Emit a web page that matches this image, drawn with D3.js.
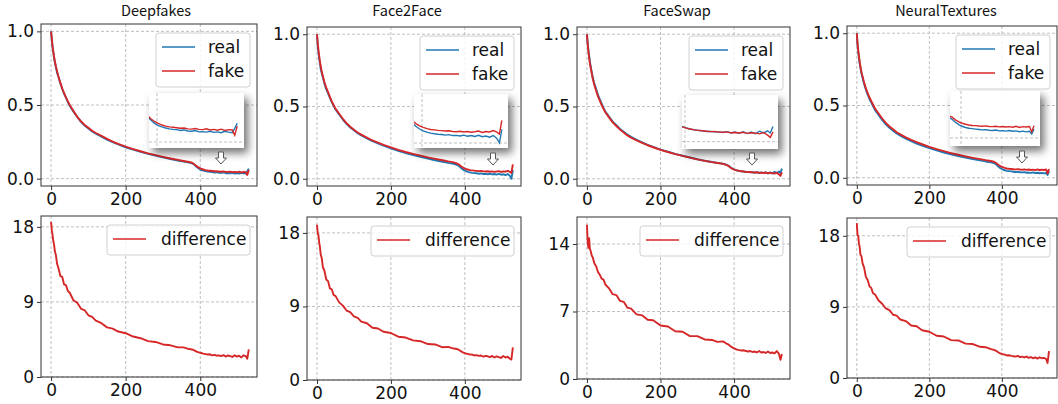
<!DOCTYPE html>
<html>
<head>
<meta charset="utf-8">
<script src="https://cdn.jsdelivr.net/npm/d3@7"></script>
<style>
  body { margin: 0; background: #fff; }
  svg { font-family: "DejaVu Sans", sans-serif; }
</style>
</head>
<body>
<div id="chart"></div>
<script>
// canvas size
const WIDTH = 1058;
const HEIGHT = 404;

// ---- data ----
const STEPS = [0,2,4,6,8,10,13,16,20,25,30,35,40,45,50,60,70,80,90,100,110,120,135,150,165,180,200,220,240,260,280,300,320,340,355,370,378,
  384,390,396,402,408,414,420,426,432,438,444,450,456,462,468,474,480,486,492,498,504,510,516,522,526,530];

const TITLES = ["Deepfakes", "Face2Face", "FaceSwap", "NeuralTextures"];

const REAL_DF = [1.00,0.94,0.89,0.86,0.82,0.79,0.76,0.72,0.69,0.645,0.61,0.575,0.55,0.52,0.495,0.455,0.42,0.385,0.36,0.34,0.32,0.305,0.285,0.265,0.248,0.232,0.213,0.197,0.182,0.168,0.156,0.144,0.133,0.123,0.116,0.109,0.104,
  0.094,0.080,0.068,0.060,0.055,0.051,0.048,0.046,0.045,0.042,0.044,0.040,0.039,0.042,0.037,0.038,0.036,0.039,0.035,0.037,0.034,0.039,0.036,0.034,0.05,0.068];
const FAKE_DF = [1.00,0.95,0.90,0.86,0.83,0.80,0.76,0.73,0.69,0.65,0.61,0.58,0.55,0.525,0.50,0.46,0.42,0.39,0.365,0.345,0.325,0.31,0.29,0.27,0.252,0.236,0.217,0.201,0.186,0.172,0.16,0.148,0.137,0.127,0.12,0.113,0.108,
  0.098,0.085,0.075,0.068,0.062,0.058,0.055,0.054,0.052,0.050,0.051,0.048,0.047,0.049,0.046,0.045,0.048,0.044,0.046,0.043,0.047,0.042,0.045,0.044,0.025,0.058];
const DIFF_DF = [18.6,17.6,17.0,16.3,15.9,15.1,14.6,13.6,13.0,12.1,12.0,11.1,11.0,10.3,10.1,9.2,8.9,8.2,8.0,7.4,7.2,6.75,6.45,5.95,5.8,5.45,5.25,4.85,4.65,4.3,4.2,3.9,3.8,3.55,3.55,3.35,3.3,
  3.2,3.05,2.95,2.88,2.8,2.75,2.7,2.72,2.6,2.65,2.55,2.6,2.5,2.62,2.45,2.58,2.5,2.4,2.6,2.45,2.55,2.35,2.6,2.5,2.2,3.3];

const REAL_F2F = [1.00,0.92,0.87,0.83,0.80,0.76,0.73,0.70,0.66,0.62,0.59,0.56,0.53,0.505,0.48,0.445,0.41,0.38,0.355,0.335,0.315,0.3,0.28,0.26,0.245,0.23,0.211,0.194,0.178,0.164,0.151,0.139,0.128,0.118,0.11,0.103,0.097,
  0.088,0.074,0.062,0.054,0.048,0.044,0.041,0.039,0.038,0.035,0.037,0.033,0.034,0.031,0.035,0.03,0.033,0.029,0.034,0.028,0.031,0.026,0.033,0.02,0.0,0.06];
const FAKE_F2F = [1.00,0.94,0.89,0.85,0.81,0.78,0.74,0.71,0.67,0.63,0.60,0.565,0.535,0.51,0.485,0.45,0.415,0.385,0.36,0.34,0.32,0.305,0.285,0.265,0.25,0.235,0.217,0.2,0.185,0.172,0.16,0.148,0.138,0.128,0.12,0.113,0.106,
  0.098,0.086,0.076,0.069,0.064,0.06,0.058,0.056,0.055,0.053,0.054,0.051,0.05,0.052,0.049,0.051,0.048,0.05,0.053,0.047,0.051,0.049,0.055,0.048,0.04,0.1];
const DIFF_F2F = [19.0,18.0,17.7,16.8,16.3,15.4,14.9,13.8,13.4,12.3,12.1,11.2,11.1,10.4,10.3,9.5,9.1,8.5,8.3,7.8,7.6,7.15,6.95,6.4,6.3,5.9,5.75,5.3,5.2,4.85,4.75,4.4,4.35,4.0,4.05,3.85,3.8,
  3.7,3.5,3.35,3.25,3.2,3.1,3.12,3.0,3.05,2.95,3.0,2.85,2.95,2.9,2.8,2.95,2.75,2.9,2.8,2.7,2.95,2.75,2.85,2.6,2.5,4.0];

const REAL_FS = [1.00,0.94,0.89,0.85,0.81,0.78,0.74,0.70,0.66,0.62,0.58,0.55,0.52,0.49,0.465,0.43,0.395,0.37,0.345,0.325,0.305,0.29,0.27,0.252,0.235,0.22,0.202,0.187,0.172,0.159,0.147,0.135,0.125,0.116,0.11,0.104,0.098,
  0.091,0.079,0.069,0.063,0.057,0.055,0.051,0.05,0.047,0.047,0.045,0.045,0.042,0.046,0.04,0.044,0.039,0.045,0.037,0.044,0.036,0.048,0.04,0.05,0.04,0.07];
const FAKE_FS = [1.00,0.93,0.88,0.84,0.80,0.77,0.73,0.69,0.65,0.61,0.57,0.54,0.51,0.485,0.46,0.425,0.39,0.365,0.34,0.32,0.30,0.285,0.265,0.248,0.232,0.218,0.2,0.185,0.171,0.158,0.146,0.134,0.124,0.115,0.109,0.103,0.097,
  0.09,0.078,0.068,0.062,0.058,0.054,0.052,0.05,0.048,0.046,0.047,0.044,0.043,0.045,0.041,0.042,0.04,0.043,0.038,0.041,0.039,0.036,0.042,0.03,0.02,0.045];
const DIFF_FS = [16.0,14.2,13.6,14.6,13.5,13.3,12.8,12.6,12.0,11.7,11.1,10.8,10.4,10.3,9.8,9.4,8.8,8.7,8.1,8.0,7.4,7.3,6.7,6.6,6.15,6.1,5.55,5.45,4.95,4.9,4.45,4.45,4.1,4.05,3.85,3.9,3.7,
  3.6,3.4,3.25,3.15,3.05,3.0,2.95,2.98,2.9,2.85,2.9,2.8,2.85,2.75,2.9,2.75,2.8,2.7,2.85,2.7,2.75,2.65,2.9,2.6,2.0,2.6];

const REAL_NT = [1.00,0.92,0.87,0.83,0.79,0.76,0.72,0.69,0.65,0.61,0.575,0.545,0.52,0.495,0.47,0.435,0.4,0.37,0.346,0.326,0.306,0.291,0.271,0.253,0.237,0.223,0.205,0.189,0.175,0.162,0.15,0.139,0.129,0.12,0.113,0.107,0.102,
  0.093,0.078,0.066,0.058,0.052,0.048,0.046,0.044,0.042,0.04,0.041,0.038,0.037,0.039,0.035,0.036,0.034,0.037,0.033,0.035,0.031,0.034,0.03,0.033,0.02,0.045];
const FAKE_NT = [1.00,0.93,0.88,0.84,0.80,0.77,0.73,0.70,0.66,0.62,0.585,0.555,0.53,0.505,0.48,0.445,0.41,0.38,0.355,0.335,0.315,0.3,0.28,0.262,0.246,0.232,0.214,0.198,0.184,0.171,0.159,0.148,0.138,0.129,0.122,0.116,0.111,
  0.103,0.09,0.08,0.073,0.068,0.064,0.062,0.061,0.059,0.058,0.06,0.057,0.056,0.058,0.055,0.057,0.054,0.056,0.053,0.058,0.052,0.056,0.054,0.057,0.03,0.06];
const DIFF_NT = [19.6,18.1,18.0,17.0,16.6,15.6,15.4,14.5,14.0,12.8,12.4,11.6,11.4,10.7,10.6,9.8,9.4,8.8,8.6,8.0,7.9,7.4,7.2,6.65,6.55,6.05,5.85,5.35,5.25,4.8,4.75,4.35,4.3,3.95,3.9,3.65,3.55,
  3.45,3.25,3.1,3.02,2.95,2.85,2.88,2.8,2.75,2.7,2.8,2.65,2.7,2.6,2.72,2.55,2.65,2.5,2.6,2.45,2.62,2.5,2.55,2.4,1.9,3.4];

const REAL = [REAL_DF, REAL_F2F, REAL_FS, REAL_NT];
const FAKE = [FAKE_DF, FAKE_F2F, FAKE_FS, FAKE_NT];
const DIFF = [DIFF_DF, DIFF_F2F, DIFF_FS, DIFF_NT];

const X_TICKS = [0, 200, 400];
const TOP_TICKS = [0, 0.5, 1.0];
const DIFF_TICKS = [[0, 9, 18], [0, 9, 18], [0, 7, 14], [0, 9, 18]];
const DIFF_MAX = [19.3, 19.95, 16.8, 20.25];

// ---- layout ----
const X_DOMAIN = [-27, 552];
const COLS = [
  {left: 41,  right: 257,  titleX: 156, top: [24, 186], bot: [216, 377],
   inset: {x: 149, y: 93, w: 95, h: 55, xd: [387, 541], yd: [-0.022, 0.179]}, arrow: [221, 158]},
  {left: 307, right: 521,  titleX: 407, top: [27, 186], bot: [217, 380],
   inset: {x: 414, y: 94, w: 94, h: 54, xd: [387, 540], yd: [-0.022, 0.217]}, arrow: [493, 159]},
  {left: 577, right: 790,  titleX: 677, top: [27, 186], bot: [217, 379],
   inset: {x: 682, y: 95, w: 96, h: 54, xd: [395.6, 537.4], yd: [-0.034, 0.215]}, arrow: [752, 159]},
  {left: 847, right: 1057, titleX: 946, top: [26, 185], bot: [218, 378],
   inset: {x: 950, y: 91, w: 90, h: 55, xd: [380.4, 540.7], yd: [-0.04, 0.233]}, arrow: [1022, 157]}
];

const BLUE = "#1f77b4";
const RED = "#d62728";
const GRID = "#b0b0b0";

const svg = d3.select("#chart")
  .append("svg")
    .attr("width", WIDTH)
    .attr("height", HEIGHT);

const defs = svg.append("defs");
const shadow = defs.append("filter")
  .attr("id", "shadow")
  .attr("x", "-30%").attr("y", "-30%")
  .attr("width", "170%").attr("height", "180%");
shadow.append("feDropShadow")
  .attr("dx", 4).attr("dy", 5)
  .attr("stdDeviation", 4)
  .attr("flood-color", "#000")
  .attr("flood-opacity", 0.55);

// one axes box: grid, lines, ticks, frame
function drawAxes(id, box, x, y, yTicks, yFmt, series) {
  const g = svg.append("g");

  g.append("clipPath").attr("id", id)
    .append("rect")
      .attr("x", box.left).attr("y", box.top)
      .attr("width", box.right - box.left).attr("height", box.bottom - box.top);

  // grid
  g.selectAll(".gx").data(X_TICKS).enter().append("line")
    .attr("x1", d => x(d)).attr("x2", d => x(d))
    .attr("y1", box.top).attr("y2", box.bottom)
    .attr("stroke", GRID).attr("stroke-width", 0.8).attr("stroke-dasharray", "3,2");
  g.selectAll(".gy").data(yTicks).enter().append("line")
    .attr("x1", box.left).attr("x2", box.right)
    .attr("y1", d => y(d)).attr("y2", d => y(d))
    .attr("stroke", GRID).attr("stroke-width", 0.8).attr("stroke-dasharray", "3,2");

  // lines
  const line = d3.line().x(d => x(d[0])).y(d => y(d[1]));
  series.forEach(s => {
    g.append("path")
      .datum(d3.zip(STEPS, s.values))
      .attr("clip-path", "url(#" + id + ")")
      .attr("fill", "none")
      .attr("stroke", s.color)
      .attr("stroke-width", 1.9)
      .attr("stroke-linejoin", "round")
      .attr("d", line);
  });

  // axes
  const ax = g.append("g")
    .attr("transform", "translate(0," + box.bottom + ")")
    .call(d3.axisBottom(x).tickValues(X_TICKS).tickSize(4).tickPadding(3));
  const ay = g.append("g")
    .attr("transform", "translate(" + box.left + ",0)")
    .call(d3.axisLeft(y).tickValues(yTicks).tickFormat(yFmt).tickSize(4).tickPadding(3));
  [ax, ay].forEach(a => {
    a.select(".domain").remove();
    a.selectAll("text").attr("font-size", 17).attr("fill", "#111")
      .attr("font-family", "DejaVu Sans");
    a.selectAll("line").attr("stroke", "#333");
  });

  // frame
  g.append("rect")
    .attr("x", box.left).attr("y", box.top)
    .attr("width", box.right - box.left).attr("height", box.bottom - box.top)
    .attr("fill", "none").attr("stroke", "#333").attr("stroke-width", 1);
  return g;
}

function drawLegend(g, box, items, w, rowGap) {
  const h = items.length === 1 ? 30 : 54;
  const lx = box.right - 7 - w;
  const ly = box.top + 9;
  const lg = g.append("g");
  lg.append("rect")
    .attr("x", lx).attr("y", ly).attr("width", w).attr("height", h)
    .attr("rx", 3)
    .attr("fill", "#fff").attr("fill-opacity", 0.8)
    .attr("stroke", "#d0d0d0");
  items.forEach((it, i) => {
    const cy = ly + 14 + i * rowGap;
    lg.append("line")
      .attr("x1", lx + 6).attr("x2", lx + 39)
      .attr("y1", cy).attr("y2", cy)
      .attr("stroke", it.color).attr("stroke-width", 1.5);
    lg.append("text")
      .attr("x", lx + (items.length === 1 ? 54 : 52)).attr("y", cy)
      .attr("dy", "0.36em")
      .attr("font-size", 17).attr("fill", "#111")
      .text(it.label);
  });
}

function drawInset(id, col, k) {
  const ins = col.inset;
  const ix = d3.scaleLinear().domain(ins.xd).range([ins.x, ins.x + ins.w]);
  const iy = d3.scaleLinear().domain(ins.yd).range([ins.y + ins.h, ins.y]);
  const g = svg.append("g");
  g.append("clipPath").attr("id", id)
    .append("rect").attr("x", ins.x).attr("y", ins.y).attr("width", ins.w).attr("height", ins.h);
  g.append("rect")
    .attr("x", ins.x).attr("y", ins.y).attr("width", ins.w).attr("height", ins.h)
    .attr("fill", "#fff").attr("filter", "url(#shadow)");
  const cg = g.append("g").attr("clip-path", "url(#" + id + ")");
  cg.append("line")
    .attr("x1", ix(400)).attr("x2", ix(400)).attr("y1", ins.y).attr("y2", ins.y + ins.h)
    .attr("stroke", GRID).attr("stroke-width", 0.8).attr("stroke-dasharray", "3,2");
  cg.append("line")
    .attr("x1", ins.x).attr("x2", ins.x + ins.w).attr("y1", iy(0)).attr("y2", iy(0))
    .attr("stroke", GRID).attr("stroke-width", 0.8).attr("stroke-dasharray", "3,2");
  const line = d3.line().x(d => ix(d[0])).y(d => iy(d[1]));
  [{values: REAL[k], color: BLUE}, {values: FAKE[k], color: RED}].forEach(s => {
    cg.append("path")
      .datum(d3.zip(STEPS, s.values))
      .attr("fill", "none").attr("stroke", s.color).attr("stroke-width", 1.4)
      .attr("d", line);
  });

  // hollow down arrow pointing at the zoomed region
  const [ax, ay] = col.arrow;
  svg.append("path")
    .attr("transform", "translate(" + ax + "," + ay + ")")
    .attr("d", "M-2.5,-6 L2.5,-6 L2.5,0 L5.5,0 L0,6 L-5.5,0 L-2.5,0 Z")
    .attr("fill", "#fff").attr("stroke", "#555").attr("stroke-width", 1);
}

COLS.forEach((col, k) => {
  // title
  svg.append("text")
    .attr("x", col.titleX).attr("y", 16)
    .attr("text-anchor", "middle")
    .attr("font-family", "'Noto Sans CJK SC', 'Noto Sans', sans-serif")
    .attr("font-size", 14.5).attr("fill", "#111")
    .text(TITLES[k]);

  const x = d3.scaleLinear().domain(X_DOMAIN).range([col.left, col.right]);

  // top: real vs fake
  const topBox = {left: col.left, right: col.right, top: col.top[0], bottom: col.top[1]};
  const yTop = d3.scaleLinear().domain([-0.05, 1.05]).range([topBox.bottom, topBox.top]);
  drawAxes("clipTop" + k, topBox, x, yTop, TOP_TICKS, d3.format(".1f"), [
    {values: REAL[k], color: BLUE},
    {values: FAKE[k], color: RED}
  ]);
  drawInset("clipInset" + k, col, k);
  drawLegend(svg.append("g"), topBox, [{label: "real", color: BLUE}, {label: "fake", color: RED}], 94, 24);

  // bottom: difference
  const botBox = {left: col.left, right: col.right, top: col.bot[0], bottom: col.bot[1]};
  const yBot = d3.scaleLinear().domain([0, DIFF_MAX[k]]).range([botBox.bottom, botBox.top]);
  const gBot = drawAxes("clipBot" + k, botBox, x, yBot, DIFF_TICKS[k], d3.format("d"), [
    {values: DIFF[k], color: RED}
  ]);
  drawLegend(gBot, botBox, [{label: "difference", color: RED}], 143, 0);
});
</script>
</body>
</html>
